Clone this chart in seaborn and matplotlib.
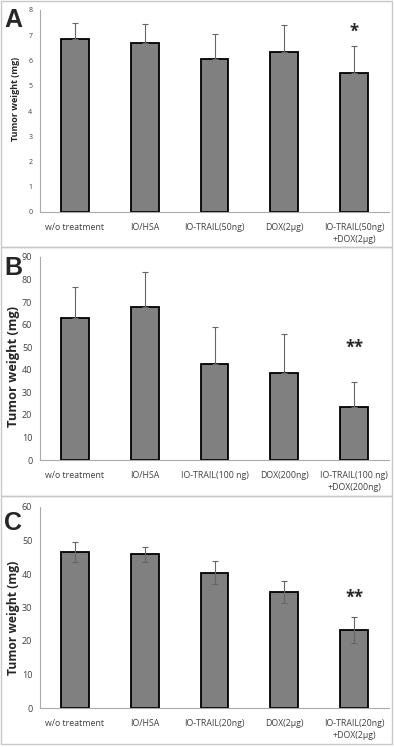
import matplotlib
matplotlib.use("Agg")
import matplotlib.pyplot as plt
import seaborn as sns
import pandas as pd
from matplotlib.patches import Rectangle

# dados
labels_a = ["w/o treatment", "IO/HSA", "IO-TRAIL(50ng)", "DOX(2μg)", "IO-TRAIL(50ng)\n+DOX(2μg)"]
peso_a = [6.85, 6.7, 6.05, 6.33, 5.52]
erro_a = [0.65, 0.75, 0.98, 1.09, 1.04]

labels_b = ["w/o treatment", "IO/HSA", "IO-TRAIL(100 ng)", "DOX(200ng)", "IO-TRAIL(100 ng)\n+DOX(200ng)"]
peso_b = [62.8, 68.0, 42.7, 38.5, 23.6]
erro_b = [13.7, 15.3, 16.3, 17.3, 10.8]

labels_c = ["w/o treatment", "IO/HSA", "IO-TRAIL(20ng)", "DOX(2μg)", "IO-TRAIL(20ng)\n+DOX(2μg)"]
peso_c = [46.6, 45.9, 40.4, 34.7, 23.3]
erro_c = [2.9, 2.3, 3.4, 3.3, 4.0]

sns.set_style("white")
plt.rcParams["font.family"] = ["Open Sans", "DejaVu Sans"]

fig = plt.figure(figsize=(3.94, 7.47), dpi=100)

# caixas cinza em volta de cada painel
for y0, y1 in [(1, 247), (247, 496), (496, 744)]:
    fig.patches.append(Rectangle((1 / 394, 1 - y1 / 747), 391 / 394, (y1 - y0) / 747,
                                 transform=fig.transFigure, fill=False,
                                 edgecolor="#c8c8c8", linewidth=1.0))

# letra, rotulos, valores, erros, erro dos dois lados, ymax, passo, estrela, y da estrela,
# caixa do eixo (px), y da letra (px), tamanho do ylabel, tamanho dos ticks y, centro do ylabel
paineis = [
    ("A", labels_a, peso_a, erro_a, False, 8, 1, "*", 7.15, [40, 10, 389, 212], 20, 6.5, 5, 0.56),
    ("B", labels_b, peso_b, erro_b, False, 90, 10, "**", 50, [40, 257, 389, 460], 268, 9.3, 6.5, 0.46),
    ("C", labels_c, peso_c, erro_c, True, 60, 10, "**", 33, [40, 507, 389, 708], 523, 8.7, 6.5, 0.45),
]

for letra, labels, peso, erro, dois_lados, ymax, passo, estrela, y_estrela, box, y_letra, tam_ylabel, tam_ticks, meio in paineis:
    x0, ytop, x1, ybot = box
    ax = fig.add_axes([x0 / 394, 1 - ybot / 747, (x1 - x0) / 394, (ybot - ytop) / 747])
    df = pd.DataFrame({"grupo": labels, "peso": peso})
    sns.barplot(data=df, x="grupo", y="peso", color="#808080", width=0.4,
                edgecolor="black", linewidth=1.3, saturation=1, errorbar=None, ax=ax)
    if dois_lados:
        yerr = [erro, erro]
    else:
        yerr = [[0] * len(erro), erro]
    ax.errorbar(range(len(peso)), peso, yerr=yerr, fmt="none", ecolor="#666666",
                elinewidth=0.8, capsize=2.5, capthick=0.8)
    ax.set_ylim(0, ymax)
    ax.set_xlim(-0.5, len(peso) - 0.5)
    ax.set_yticks(range(0, ymax + 1, passo))
    ax.set_xticks([i - 0.5 for i in range(len(peso) + 1)], minor=True)
    ax.set_xticks(range(len(peso)))
    ax.set_xticklabels(labels, fontsize=6.3, color="#404040", linespacing=1.45)
    ax.tick_params(axis="x", which="major", length=0, pad=8)
    ax.tick_params(axis="x", which="minor", length=3, color="#aaaaaa", width=0.7)
    ax.tick_params(axis="y", length=3, color="#aaaaaa", width=0.7, labelsize=tam_ticks,
                   labelcolor="#404040", pad=2.5)
    ax.set_xlabel("")
    ax.set_ylabel("Tumor weight (mg)", fontsize=tam_ylabel, fontweight="bold")
    ax.yaxis.set_label_coords(-20 / (x1 - x0), meio)
    for lado in ["top", "right"]:
        ax.spines[lado].set_visible(False)
    for lado in ["left", "bottom"]:
        ax.spines[lado].set_color("#aaaaaa")
        ax.spines[lado].set_linewidth(0.8)
    ax.text(len(peso) - 1, y_estrela, estrela, ha="center", va="center", fontsize=12, fontweight="bold")
    fig.text(13 / 394, 1 - y_letra / 747, letra, ha="center", va="center",
             fontsize=18, fontweight="bold", family=["Liberation Sans", "DejaVu Sans"])

fig.savefig("out.png", dpi=100)
